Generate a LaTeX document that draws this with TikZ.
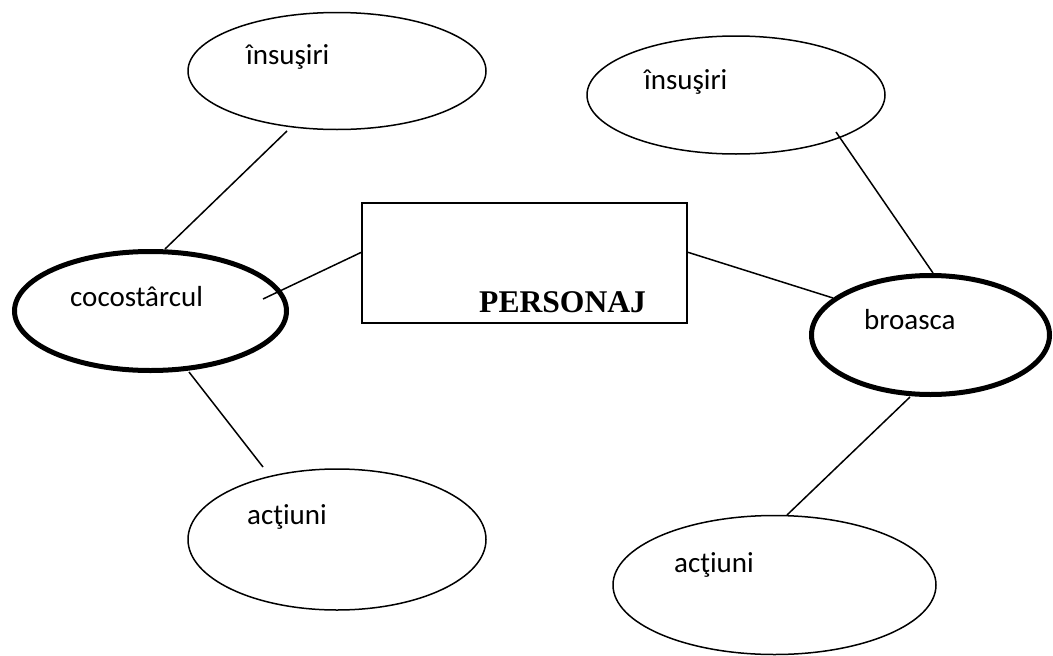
\documentclass[tikz,border=0pt]{standalone}
\usepackage{fontspec}
\setmainfont{Carlito}
\newfontfamily\tnr{Liberation Serif}
\usetikzlibrary{shapes.geometric,calc}
\tikzset{
  oval/.style={draw=black, ellipse, line width=1.5pt, inner sep=0pt, outer sep=0pt},
  thickoval/.style={oval, line width=5pt},
  box/.style={draw=black, rectangle, line width=1.8pt, inner sep=0pt, outer sep=0pt},
  lbl/.style={anchor=base west, inner sep=0pt, font=\fontsize{29}{35}\selectfont},
  title/.style={anchor=base west, inner sep=0pt, font=\tnr\bfseries\fontsize{31.6}{38}\selectfont},
  link/.style={draw=black, line width=1.5pt}
}
\begin{document}
\begin{tikzpicture}[x=1pt,y=-1pt]
\useasboundingbox[fill=white] (0,0) rectangle (1053,656);
% shapes
\node[oval, minimum width=298pt, minimum height=117pt] (tl) at (337,71) {};
\node[oval, minimum width=298pt, minimum height=118pt] (tr) at (736,95) {};
\node[thickoval, minimum width=272pt, minimum height=119pt] (coco) at (150.5,311) {};
\node[thickoval, minimum width=238pt, minimum height=119pt] (broasca) at (930.5,335) {};
\node[oval, minimum width=298pt, minimum height=141pt] (al) at (337,539.5) {};
\node[oval, minimum width=323pt, minimum height=139pt] (ar) at (774.5,585) {};
\node[box, minimum width=325pt, minimum height=120pt] (pers) at (524.5,263) {};
% texts
\node[lbl] (tltxt) at (246,64) {însuşiri};
\node[lbl] (trtxt) at (644,89) {însuşiri};
\node[lbl] (cocotxt) at (70,306) {cocostârcul};
\node[lbl] (brtxt) at (864,329) {broasca};
\node[lbl] (altxt) at (247,524) {acţiuni};
\node[lbl] (artxt) at (674,572) {acţiuni};
\node[title] (perstxt) at (479,312) {PERSONAJ};
% connectors
\draw[link] ($(tl.center)+(-50,60)$) -- ($(coco.center)+(14.5,-62)$);
\draw[link] ($(coco.center)+(112.5,-12)$) -- ($(pers.west)+(0,-11)$);
\draw[link] ($(coco.center)+(38.5,61)$) -- ($(al.center)+(-74,-72.5)$);
\draw[link] ($(pers.east)+(0,-11)$) -- ($(broasca.center)+(-97.5,-37)$);
\draw[link] ($(tr.center)+(100,37)$) -- ($(broasca.center)+(2.5,-62)$);
\draw[link] ($(broasca.center)+(-20.5,62)$) -- ($(ar.center)+(12.5,-70)$);
\end{tikzpicture}
\end{document}
